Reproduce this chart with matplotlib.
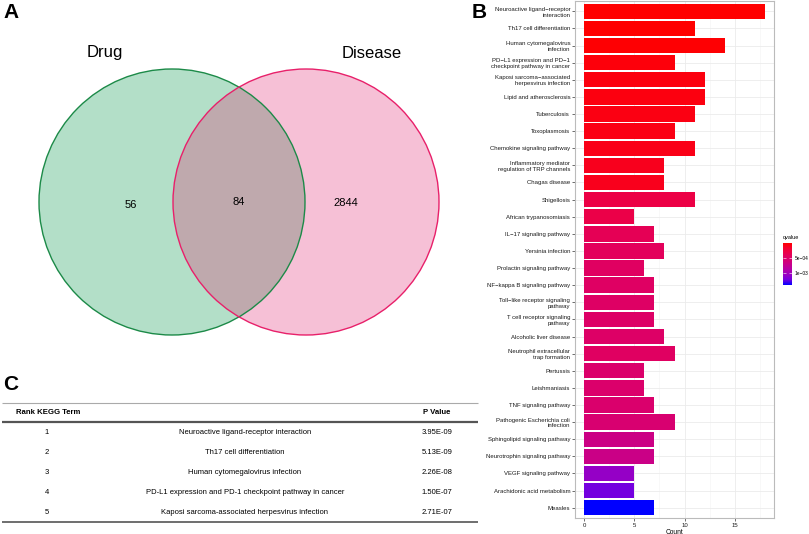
import matplotlib
matplotlib.use('Agg')
import matplotlib.pyplot as plt
import numpy as np
from matplotlib.colors import LinearSegmentedColormap, Normalize
from matplotlib.patches import Circle

plt.rcParams['font.family'] = ['Liberation Sans', 'DejaVu Sans']

# --- Data ---
# Panel A: Venn counts
venn_labels = ['Drug', 'Disease']
venn_counts = [56, 84, 2844]   # drug only, overlap, disease only

# Panel B: KEGG enrichment (top to bottom)
kegg_terms = [
    'Neuroactive ligand\u2212receptor\ninteraction',
    'Th17 cell differentiation',
    'Human cytomegalovirus\ninfection',
    'PD\u2212L1 expression and PD\u22121\ncheckpoint pathway in cancer',
    'Kaposi sarcoma\u2212associated\nherpesvirus infection',
    'Lipid and atherosclerosis',
    'Tuberculosis',
    'Toxoplasmosis',
    'Chemokine signaling pathway',
    'Inflammatory mediator\nregulation of TRP channels',
    'Chagas disease',
    'Shigellosis',
    'African trypanosomiasis',
    'IL\u221217 signaling pathway',
    'Yersinia infection',
    'Prolactin signaling pathway',
    'NF\u2212kappa B signaling pathway',
    'Toll\u2212like receptor signaling\npathway',
    'T cell receptor signaling\npathway',
    'Alcoholic liver disease',
    'Neutrophil extracellular\ntrap formation',
    'Pertussis',
    'Leishmaniasis',
    'TNF signaling pathway',
    'Pathogenic Escherichia coli\ninfection',
    'Sphingolipid signaling pathway',
    'Neurotrophin signaling pathway',
    'VEGF signaling pathway',
    'Arachidonic acid metabolism',
    'Measles',
]
kegg_counts = [18, 11, 14, 9, 12, 12, 11, 9, 11, 8, 8, 11, 5, 7, 8, 6, 7, 7, 7, 8,
               9, 6, 6, 7, 9, 7, 7, 5, 5, 7]
kegg_qvalues = [4.0e-6, 8.0e-6, 1.9e-5, 4.5e-5, 5.8e-5, 6.0e-5, 7.2e-5, 7.5e-5,
                8.9e-5, 1.10e-4, 1.05e-4, 2.9e-4, 3.1e-4, 3.9e-4, 4.2e-4, 4.6e-4,
                4.7e-4, 4.8e-4, 4.9e-4, 4.9e-4, 4.6e-4, 5.2e-4, 5.2e-4, 5.3e-4,
                5.5e-4, 6.8e-4, 6.9e-4, 1.07e-3, 1.22e-3, 1.40e-3]
qvalue_ticks = [5e-4, 1e-3]
qvalue_ticklabels = ['5e\u221204', '1e\u221203']

# Panel C: top five terms table
table_rank = ['1', '2', '3', '4', '5']
table_term = ['Neuroactive ligand-receptor interaction',
              'Th17 cell differentiation',
              'Human cytomegalovirus infection',
              'PD-L1 expression and PD-1 checkpoint pathway in cancer',
              'Kaposi sarcoma-associated herpesvirus infection']
table_pvalue = ['3.95E-09', '5.13E-09', '2.26E-08', '1.50E-07', '2.71E-07']

# red -> blue gradient (Lab-like interpolation as in ggplot)
red_blue = LinearSegmentedColormap.from_list('red_blue', [
    '#FF0000', '#F40031', '#E80050', '#DA006C', '#C90088',
    '#B500A5', '#9A00C2', '#7300E0', '#0000FF'])

W, H = 809, 534
fig = plt.figure(figsize=(W / 100, H / 100), dpi=100)

# overlay axes in pixel coordinates for panels A and C
ov = fig.add_axes([0, 0, 1, 1])
ov.set_xlim(0, W)
ov.set_ylim(H, 0)
ov.axis('off')

# --- Panel A: Venn ---
r = 133
cl, cr = (172, 202), (306, 202)
left = Circle(cl, r, facecolor='#B3DFC8', edgecolor='none', zorder=1)
right = Circle(cr, r, facecolor='#F6C0D6', edgecolor='none', zorder=1)
ov.add_patch(left)
ov.add_patch(right)
lens = Circle(cl, r, facecolor='#BFA9AD', edgecolor='none', zorder=2)
ov.add_patch(lens)
lens.set_clip_path(Circle(cr, r, transform=ov.transData))
ov.add_patch(Circle(cl, r, fill=False, edgecolor='#1C8A48', lw=1.0, zorder=3))
ov.add_patch(Circle(cr, r, fill=False, edgecolor='#E8206A', lw=1.0, zorder=3))

ov.text(105, 52, venn_labels[0], fontsize=12, ha='center', va='center')
ov.text(372, 53, venn_labels[1], fontsize=12, ha='center', va='center')
ov.text(131, 205, str(venn_counts[0]), fontsize=8, ha='center', va='center')
ov.text(239, 202, str(venn_counts[1]), fontsize=8, ha='center', va='center')
ov.text(346, 203, str(venn_counts[2]), fontsize=8, ha='center', va='center')

# panel letters
ov.text(3, 12, 'A', fontsize=15, fontweight='bold', ha='left', va='center')
ov.text(472, 12, 'B', fontsize=15, fontweight='bold', ha='left', va='center')
ov.text(3, 384, 'C', fontsize=15, fontweight='bold', ha='left', va='center')

# --- Panel C: table ---
ov.hlines(403, 2, 478, color='#AAAAAA', lw=0.8)
ov.hlines(422, 2, 478, color='#555555', lw=1.6)
ov.hlines(522, 2, 478, color='#555555', lw=1.2)
ov.text(16, 412, 'Rank KEGG Term', fontsize=5.6, fontweight='bold', ha='left', va='center')
ov.text(437, 412, 'P Value', fontsize=5.6, fontweight='bold', ha='center', va='center')
for i in range(len(table_rank)):
    y = 432 + 20 * i
    ov.text(47, y, table_rank[i], fontsize=5.5, ha='center', va='center')
    ov.text(245, y, table_term[i], fontsize=5.5, ha='center', va='center')
    ov.text(437, y, table_pvalue[i], fontsize=5.5, ha='center', va='center')

# --- Panel B: bar chart ---
ax = fig.add_axes([575 / W, 1 - 518 / H, 199 / W, 517 / H])
pos = np.arange(len(kegg_terms))
norm = Normalize(vmin=min(kegg_qvalues), vmax=max(kegg_qvalues))
ax.barh(pos, kegg_counts, height=0.9, color=red_blue(norm(np.array(kegg_qvalues))), zorder=3)
ax.set_ylim(len(kegg_terms) - 0.4, -0.6)
ax.set_xlim(-0.9, 18.9)
ax.set_yticks(pos)
ax.set_yticklabels(kegg_terms, fontsize=4.3, linespacing=1.2)
ax.set_xticks([0, 5, 10, 15])
ax.set_xticks([2.5, 7.5, 12.5, 17.5], minor=True)
ax.tick_params(axis='both', which='major', labelsize=4.3, length=2, width=0.5,
               color='#333333', pad=1.5, labelcolor='#1A1A1A')
ax.tick_params(axis='x', which='minor', length=0)
ax.grid(True, which='major', color='#EBEBEB', lw=0.6, zorder=0)
ax.grid(True, which='minor', axis='x', color='#F4F4F4', lw=0.4, zorder=0)
ax.set_axisbelow(True)
for s in ax.spines.values():
    s.set_color('#BBBBBB')
    s.set_linewidth(0.8)
ax.set_xlabel('Count', fontsize=4.8, labelpad=0.5)

# colorbar (low q-value on top)
cax = fig.add_axes([783 / W, 1 - 285 / H, 9 / W, 42 / H])
sm = plt.cm.ScalarMappable(norm=norm, cmap=red_blue)
cb = fig.colorbar(sm, cax=cax)
cb.outline.set_visible(False)
cax.invert_yaxis()
cb.set_ticks(qvalue_ticks)
cb.set_ticklabels(qvalue_ticklabels)
cax.tick_params(labelsize=3.5, length=2, width=0.4, color='white', direction='in',
                left=True, right=True, pad=2)
fig.text(783 / W, 1 - 237 / H, 'qvalue', fontsize=4, ha='left', va='center')

fig.savefig('out.png', dpi=100)
